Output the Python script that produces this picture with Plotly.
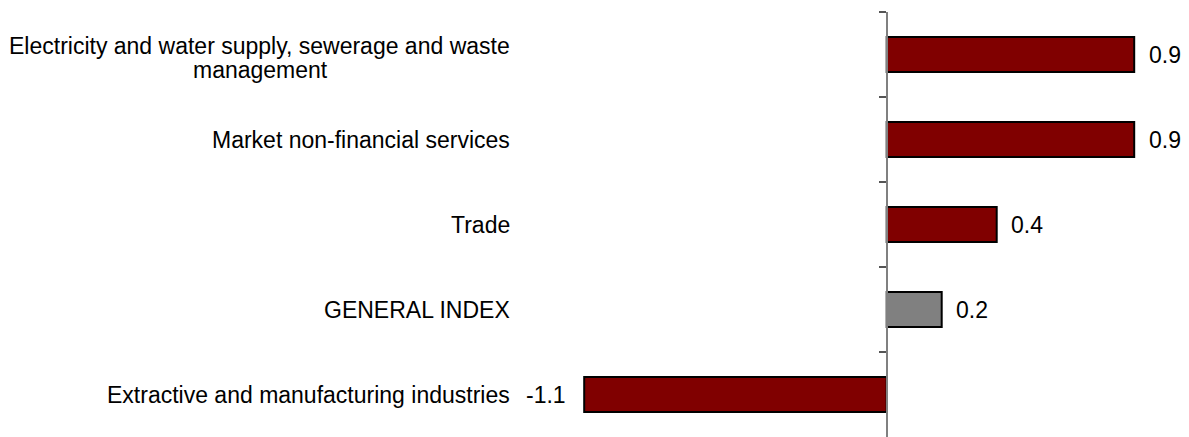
import plotly.graph_objects as go

categories = [
    "Electricity and water supply, sewerage and waste<br>management",
    "Market non-financial services",
    "Trade",
    "GENERAL INDEX",
    "Extractive and manufacturing industries",
]
values = [0.9, 0.9, 0.4, 0.2, -1.1]
bar_colors = ["#800000", "#800000", "#800000", "#808080", "#800000"]
value_labels = ["0.9", "0.9", "0.4", "0.2", "-1.1"]

# the page body adds an 8px margin, so the figure is sized/offset to compensate
OFF = 8
W, H = 1189 - OFF, 437 - OFF
zero_px = 886.7 - OFF
px_per_unit = 275.0
x_range = [-zero_px / px_per_unit, (W - zero_px) / px_per_unit]
label_x = (512 - OFF) / W
wrap_center_x = (260 - OFF) / W

FONT = "Liberation Sans, Arial, sans-serif"
FS = 23
font = dict(family=FONT, size=FS, color="#000000")

fig = go.Figure()
fig.add_trace(go.Bar(
    x=values,
    y=categories,
    orientation="h",
    width=0.41,
    marker=dict(color=bar_colors, line=dict(color="#000000", width=2)),
    hoverinfo="skip",
))

annotations = []
for cat, v, lab in zip(categories, values, value_labels):
    annotations.append(dict(
        x=v, y=cat, xref="x", yref="y",
        text=lab, showarrow=False,
        xanchor="left" if v >= 0 else "right",
        xshift=12.5 if v >= 0 else -16,
        font=font,
    ))
    lines = cat.split("<br>")
    if len(lines) == 1:
        annotations.append(dict(
            x=label_x, y=cat, xref="paper", yref="y",
            text=cat, showarrow=False, xanchor="right", font=font,
        ))
    else:
        # first line, right-aligned, slightly above the bar centre
        annotations.append(dict(
            x=label_x, y=cat, xref="paper", yref="y",
            text=lines[0], showarrow=False, xanchor="right",
            yshift=9, font=font,
        ))
        # second line, centred under the first (tight line spacing)
        annotations.append(dict(
            x=wrap_center_x, y=cat, xref="paper", yref="y",
            text=lines[1], showarrow=False, xanchor="center",
            yshift=-15, font=font,
        ))

fig.update_layout(
    width=W, height=H,
    margin=dict(l=0, r=0, t=12 - OFF, b=0),
    paper_bgcolor="white", plot_bgcolor="white",
    showlegend=False,
    font=font,
    xaxis=dict(range=x_range, visible=False, fixedrange=True),
    yaxis=dict(
        categoryorder="array", categoryarray=categories,
        autorange="reversed",
        anchor="free", position=zero_px / W,
        showline=True, linecolor="#808080", linewidth=1.5,
        ticks="outside", tickson="boundaries", ticklen=7,
        tickcolor="#555555", tickwidth=1.5,
        showticklabels=False, showgrid=False, zeroline=False,
    ),
    annotations=annotations,
)

fig.write_html("out.html")
